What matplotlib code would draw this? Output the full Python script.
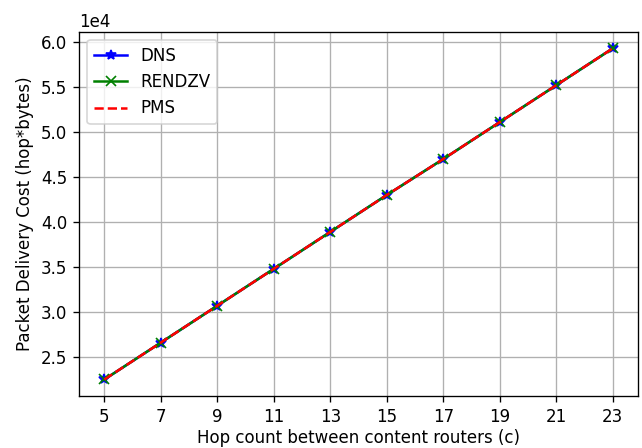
import matplotlib
matplotlib.use("Agg")
import matplotlib.pyplot as plt

# hop count between content routers
hops = [5, 7, 9, 11, 13, 15, 17, 19, 21, 23]

# packet delivery cost (hop*bytes)
dns_cost = [22500, 26600, 30700, 34800, 38900, 43000, 47000, 51100, 55200, 59300]
rendzv_cost = [22500, 26600, 30700, 34800, 38900, 43000, 47000, 51100, 55200, 59300]
pms_cost = [22500, 26600, 30700, 34800, 38900, 43000, 47000, 51100, 55200, 59300]

DPI = 120
fig = plt.figure(figsize=(642 / DPI, 448 / DPI), dpi=DPI)
ax = fig.add_axes([0.123, 0.116, 0.871, 0.813])

ax.plot(hops, dns_cost, 'b*-', label='DNS')
ax.plot(hops, rendzv_cost, 'gx-', label='RENDZV')
ax.plot(hops, pms_cost, 'r--', label='PMS')

ax.set_xticks(hops)
ax.ticklabel_format(axis='y', style='sci', scilimits=(0, 0))
ax.set_xlabel('Hop count between content routers (c)', labelpad=2)
ax.set_ylabel('Packet Delivery Cost (hop*bytes)')
ax.grid(True)
ax.legend(loc='upper left')

fig.savefig("out.png", dpi=DPI)
